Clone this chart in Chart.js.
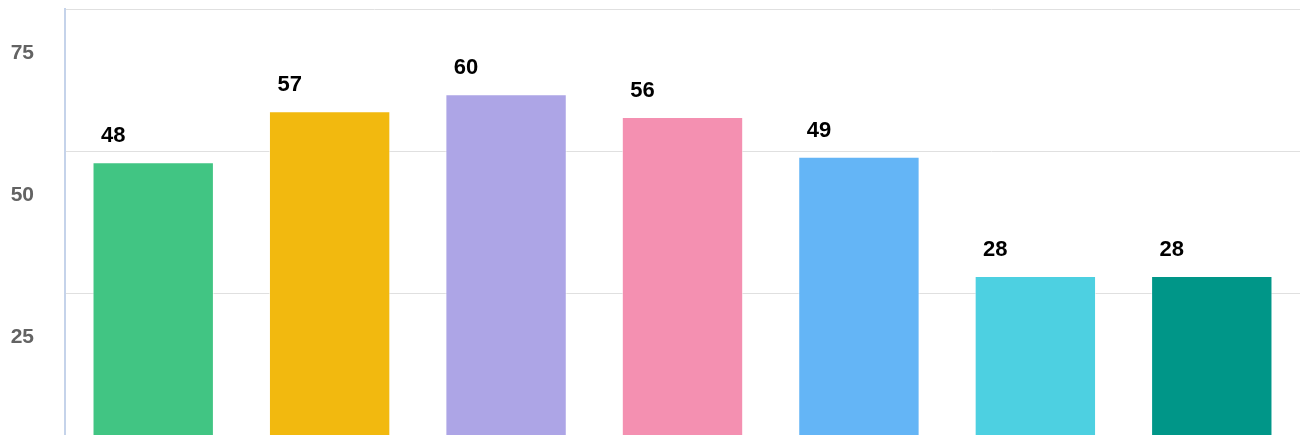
<!DOCTYPE html>
<html>
<head>
<meta charset="utf-8">
<script src="https://cdn.jsdelivr.net/npm/chart.js@4/dist/chart.umd.min.js"></script>
<style>
    html, body { margin: 0; padding: 0; background: #fff; }
    #wrap { width: 1302px; height: 435px; }
</style>
</head>
<body>
<div id="wrap"><canvas id="bar-chart"></canvas></div>
<script>
const categories = ['A', 'B', 'C', 'D', 'E', 'F', 'G'];
const values = [48, 57, 60, 56, 49, 28, 28];
const barColors = ['#41c583', '#f2b90f', '#ada5e6', '#f490b1', '#64b5f6', '#4dd0e1', '#009688'];
const yTicks = [25, 50, 75];

// value labels above each bar, shifted a bit left like the original
const valueLabels = {
    id: 'valueLabels',
    afterDatasetsDraw(chart) {
        const ctx = chart.ctx;
        const meta = chart.getDatasetMeta(0);
        ctx.save();
        ctx.font = 'bold 22px "Liberation Sans", Arial, sans-serif';
        ctx.fillStyle = '#000';
        ctx.textAlign = 'center';
        ctx.textBaseline = 'middle';
        meta.data.forEach((bar, i) => {
            ctx.fillText(values[i], bar.x - 40, bar.y - 26);
        });
        ctx.restore();
    }
};

function loadChart() {
    const ctx = document.getElementById('bar-chart').getContext('2d');
    new Chart(ctx, {
        type: 'bar',
        data: {
            labels: categories,
            datasets: [{
                data: values,
                backgroundColor: barColors,
                borderColor: 'rgba(255,255,255,0.6)',
                borderWidth: 1,
                barPercentage: 0.86,
                categoryPercentage: 0.8
            }]
        },
        options: {
            responsive: true,
            maintainAspectRatio: false,
            animation: false,
            layout: { padding: { top: 9, right: 2, bottom: 0, left: 0 } },
            plugins: {
                legend: { display: false },
                tooltip: { enabled: false }
            },
            scales: {
                x: { display: false },
                y: {
                    min: 0,
                    max: 75,
                    afterBuildTicks: (axis) => {
                        axis.ticks = yTicks.map(v => ({ value: v }));
                    },
                    afterFit: (axis) => {
                        axis.width = 65;
                        axis.paddingTop = 0;
                        axis.paddingBottom = 0;
                    },
                    border: { display: true, color: '#c5d3ea', width: 2 },
                    grid: { color: '#e0e0e0', drawTicks: false },
                    ticks: {
                        padding: 31,
                        labelOffset: 44,
                        color: '#636363',
                        font: { family: '"Liberation Sans", Arial, sans-serif', size: 21, weight: 'bold' }
                    }
                }
            }
        },
        plugins: [valueLabels]
    });
}

document.addEventListener('DOMContentLoaded', loadChart);
</script>
</body>
</html>
